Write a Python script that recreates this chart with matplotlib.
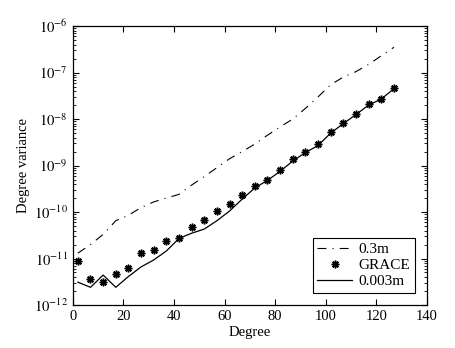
import matplotlib
matplotlib.use("Agg")
import matplotlib.pyplot as plt
from matplotlib.ticker import FixedLocator, NullFormatter

plt.rcParams['font.family'] = ['Liberation Serif', 'DejaVu Serif']
plt.rcParams['mathtext.fontset'] = 'stix'

degrees = [2, 7, 12, 17, 22, 27, 32, 37, 42, 47, 52, 57, 62, 67, 72, 77, 82, 87,
           92, 97, 102, 107, 112, 117, 122, 127]

var_03m = [1.3e-11, 2.0e-11, 3.3e-11, 6.5e-11, 8.5e-11, 1.25e-10, 1.65e-10, 2.0e-10,
           2.4e-10, 3.8e-10, 5.8e-10, 9e-10, 1.4e-9, 2.0e-9, 2.9e-9, 4.5e-9, 6.8e-9,
           1.0e-8, 1.7e-8, 3.0e-8, 5.5e-8, 8.0e-8, 1.05e-7, 1.5e-7, 2.3e-7, 3.5e-7]

var_grace = [9e-12, 3.7e-12, 3.2e-12, 4.7e-12, 6.2e-12, 1.3e-11, 1.5e-11, 2.4e-11,
             2.8e-11, 4.7e-11, 6.8e-11, 1.07e-10, 1.48e-10, 2.3e-10, 3.7e-10, 5.0e-10,
             8.1e-10, 1.38e-9, 2.0e-9, 2.9e-9, 5.3e-9, 8.3e-9, 1.29e-8, 2.1e-8,
             2.7e-8, 4.6e-8]

var_0003m = [3.1e-12, 2.4e-12, 4.4e-12, 2.4e-12, 4.1e-12, 6.6e-12, 9.3e-12, 1.45e-11,
             2.7e-11, 3.5e-11, 4.3e-11, 6.5e-11, 1.05e-10, 1.9e-10, 3.3e-10, 4.8e-10,
             7.5e-10, 1.25e-9, 1.9e-9, 2.7e-9, 5.0e-9, 8.0e-9, 1.25e-8, 2.0e-8,
             2.7e-8, 4.5e-8]

xticks = [0, 20, 40, 60, 80, 100, 120, 140]
yexps = [-12, -11, -10, -9, -8, -7, -6]

fig = plt.figure(figsize=(4.55, 3.48), dpi=100)
ax = fig.add_axes([0.160, 0.1236, 0.778, 0.8014])

ax.semilogy(degrees, var_03m, color='black', lw=0.8,
            linestyle=(0, (8, 5.5, 1, 5.5)), label='0.3m')
ax.semilogy(degrees, var_grace, linestyle='none', marker=(8, 2, 0),
            markersize=5.5, markeredgewidth=1.1, color='black', label='GRACE')
ax.semilogy(degrees, var_0003m, color='black', lw=0.9, label='0.003m')

ax.set_xlim(0, 140)
ax.set_ylim(1e-12, 1e-6)
ax.set_xticks(xticks)
ax.set_xticklabels([str(t) for t in xticks])
ax.yaxis.set_major_locator(FixedLocator([10.0 ** e for e in yexps]))
ax.set_yticklabels([r'$10^{%d}$' % e for e in yexps])
minors = [m * 10.0 ** e for e in yexps[:-1] for m in range(2, 10)]
ax.yaxis.set_minor_locator(FixedLocator(minors))
ax.yaxis.set_minor_formatter(NullFormatter())

ax.tick_params(which='both', direction='in', top=True, right=True, labelsize=10.5)
ax.tick_params(which='major', length=4, width=0.8)
ax.tick_params(which='minor', length=2, width=0.6)
for s in ax.spines.values():
    s.set_linewidth(0.9)

ax.set_xlabel('Degree', fontsize=10.5, labelpad=2)
ax.set_ylabel('Degree variance', fontsize=10.5, labelpad=3)

leg = ax.legend(loc='lower right', bbox_to_anchor=(0.966, 0.044), fontsize=11,
                frameon=True, fancybox=False, shadow=False, framealpha=1,
                edgecolor='black', handlelength=2.3, borderpad=0.3,
                labelspacing=0.15, handletextpad=0.4, borderaxespad=0)
leg.get_frame().set_linewidth(0.8)

fig.savefig('out.png', dpi=100)
